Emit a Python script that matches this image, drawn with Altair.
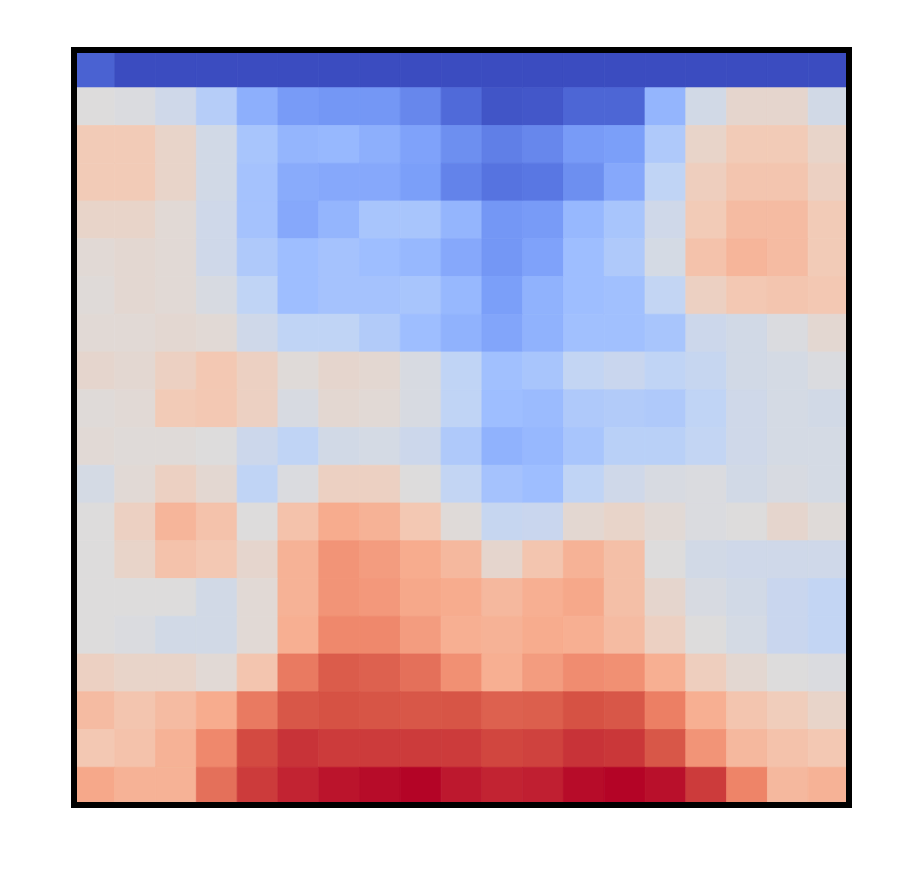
import altair as alt
import pandas as pd

# 20 rows (top to bottom) x 19 columns (left to right), values on a 0..1 scale
row_00 = [0.05, 0.0, 0.0, 0.0, 0.0, 0.0, 0.0, 0.0, 0.0, 0.0, 0.0, 0.0, 0.0, 0.0, 0.0, 0.0, 0.0, 0.0, 0.0]
row_01 = [0.50, 0.49, 0.45, 0.37, 0.25, 0.19, 0.18, 0.18, 0.14, 0.07, 0.02, 0.025, 0.06, 0.06, 0.27, 0.46, 0.54, 0.54, 0.46]
row_02 = [0.60, 0.60, 0.55, 0.46, 0.33, 0.27, 0.28, 0.25, 0.21, 0.16, 0.12, 0.14, 0.19, 0.20, 0.35, 0.55, 0.60, 0.60, 0.55]
row_03 = [0.60, 0.60, 0.55, 0.46, 0.32, 0.24, 0.23, 0.23, 0.20, 0.13, 0.09, 0.10, 0.16, 0.23, 0.40, 0.58, 0.62, 0.62, 0.57]
row_04 = [0.55, 0.55, 0.52, 0.45, 0.32, 0.23, 0.27, 0.33, 0.33, 0.27, 0.18, 0.19, 0.28, 0.33, 0.45, 0.60, 0.65, 0.65, 0.60]
row_05 = [0.52, 0.53, 0.52, 0.45, 0.35, 0.30, 0.32, 0.30, 0.28, 0.23, 0.18, 0.21, 0.30, 0.35, 0.47, 0.63, 0.67, 0.65, 0.60]
row_06 = [0.51, 0.53, 0.52, 0.48, 0.40, 0.30, 0.32, 0.32, 0.33, 0.28, 0.20, 0.26, 0.30, 0.31, 0.41, 0.57, 0.61, 0.62, 0.61]
row_07 = [0.52, 0.52, 0.53, 0.52, 0.45, 0.40, 0.40, 0.36, 0.30, 0.26, 0.22, 0.26, 0.31, 0.31, 0.33, 0.44, 0.46, 0.49, 0.53]
row_08 = [0.54, 0.53, 0.57, 0.61, 0.57, 0.51, 0.54, 0.53, 0.48, 0.40, 0.31, 0.33, 0.41, 0.43, 0.40, 0.42, 0.46, 0.47, 0.49]
row_09 = [0.51, 0.52, 0.60, 0.61, 0.57, 0.48, 0.53, 0.52, 0.48, 0.40, 0.30, 0.29, 0.35, 0.36, 0.35, 0.40, 0.45, 0.47, 0.46]
row_10 = [0.52, 0.51, 0.51, 0.50, 0.44, 0.40, 0.46, 0.47, 0.44, 0.35, 0.26, 0.28, 0.33, 0.38, 0.38, 0.41, 0.45, 0.47, 0.47]
row_11 = [0.47, 0.52, 0.57, 0.53, 0.40, 0.49, 0.57, 0.57, 0.50, 0.41, 0.32, 0.30, 0.40, 0.45, 0.48, 0.49, 0.46, 0.48, 0.47]
row_12 = [0.50, 0.57, 0.67, 0.63, 0.50, 0.63, 0.70, 0.68, 0.61, 0.51, 0.42, 0.43, 0.53, 0.55, 0.52, 0.49, 0.50, 0.54, 0.51]
row_13 = [0.50, 0.55, 0.63, 0.61, 0.54, 0.68, 0.76, 0.74, 0.70, 0.66, 0.54, 0.62, 0.68, 0.64, 0.50, 0.46, 0.45, 0.45, 0.45]
row_14 = [0.50, 0.50, 0.50, 0.46, 0.52, 0.68, 0.76, 0.75, 0.71, 0.70, 0.66, 0.69, 0.71, 0.64, 0.54, 0.48, 0.46, 0.43, 0.41]
row_15 = [0.50, 0.49, 0.46, 0.46, 0.52, 0.69, 0.79, 0.79, 0.74, 0.69, 0.68, 0.70, 0.69, 0.65, 0.57, 0.50, 0.47, 0.43, 0.41]
row_16 = [0.57, 0.55, 0.55, 0.52, 0.62, 0.82, 0.88, 0.87, 0.84, 0.77, 0.69, 0.74, 0.78, 0.77, 0.69, 0.58, 0.53, 0.50, 0.49]
row_17 = [0.65, 0.62, 0.65, 0.70, 0.82, 0.89, 0.90, 0.895, 0.89, 0.895, 0.87, 0.875, 0.90, 0.89, 0.81, 0.69, 0.62, 0.59, 0.55]
row_18 = [0.61, 0.63, 0.68, 0.79, 0.91, 0.94, 0.93, 0.93, 0.93, 0.93, 0.915, 0.92, 0.94, 0.935, 0.89, 0.76, 0.66, 0.63, 0.61]
row_19 = [0.71, 0.68, 0.68, 0.84, 0.93, 0.96, 0.98, 0.99, 1.00, 0.975, 0.96, 0.965, 0.99, 1.00, 0.985, 0.93, 0.80, 0.66, 0.68]

rows = [row_00, row_01, row_02, row_03, row_04, row_05, row_06, row_07, row_08, row_09,
        row_10, row_11, row_12, row_13, row_14, row_15, row_16, row_17, row_18, row_19]

# coolwarm colour stops
cmap_stops = [0.0, 0.1, 0.2, 0.3, 0.4, 0.5, 0.6, 0.7, 0.8, 0.9, 1.0]
cmap_colors = ["#3b4cc0", "#5977e3", "#7b9ff9", "#9ebeff", "#c0d4f5", "#dddcdc",
               "#f2cbb7", "#f7ac8e", "#ee8468", "#d65244", "#b40426"]

records = []
for r, row in enumerate(rows):
    for c, v in enumerate(row):
        records.append({"row": r, "col": c, "value": v})
df = pd.DataFrame(records)

W, H = 775, 755

cscale = alt.Scale(domain=cmap_stops, range=cmap_colors, interpolate="rgb")

cells = (
    alt.Chart(df)
    .mark_rect(strokeWidth=0.8)
    .encode(
        x=alt.X("col:O", axis=None, scale=alt.Scale(paddingInner=0, paddingOuter=0)),
        y=alt.Y("row:O", axis=None, scale=alt.Scale(paddingInner=0, paddingOuter=0)),
        color=alt.Color("value:Q", legend=None, scale=cscale),
        stroke=alt.Stroke("value:Q", legend=None, scale=cscale),
    )
)

frame = (
    alt.Chart(pd.DataFrame({"f": [0]}))
    .mark_rect(fill=None, filled=False, stroke="black", strokeWidth=6)
    .encode(x=alt.value(0), x2=alt.value(W), y=alt.value(0), y2=alt.value(H))
)

chart = (
    alt.layer(cells, frame)
    .properties(
        width=W,
        height=H,
        autosize=alt.AutoSizeParams(type="none"),
        padding={"left": 66, "top": 42, "right": 30, "bottom": 30},
    )
    .configure_view(stroke=None)
)

chart.save("out.html", embed_options={"renderer": "svg", "actions": False})
